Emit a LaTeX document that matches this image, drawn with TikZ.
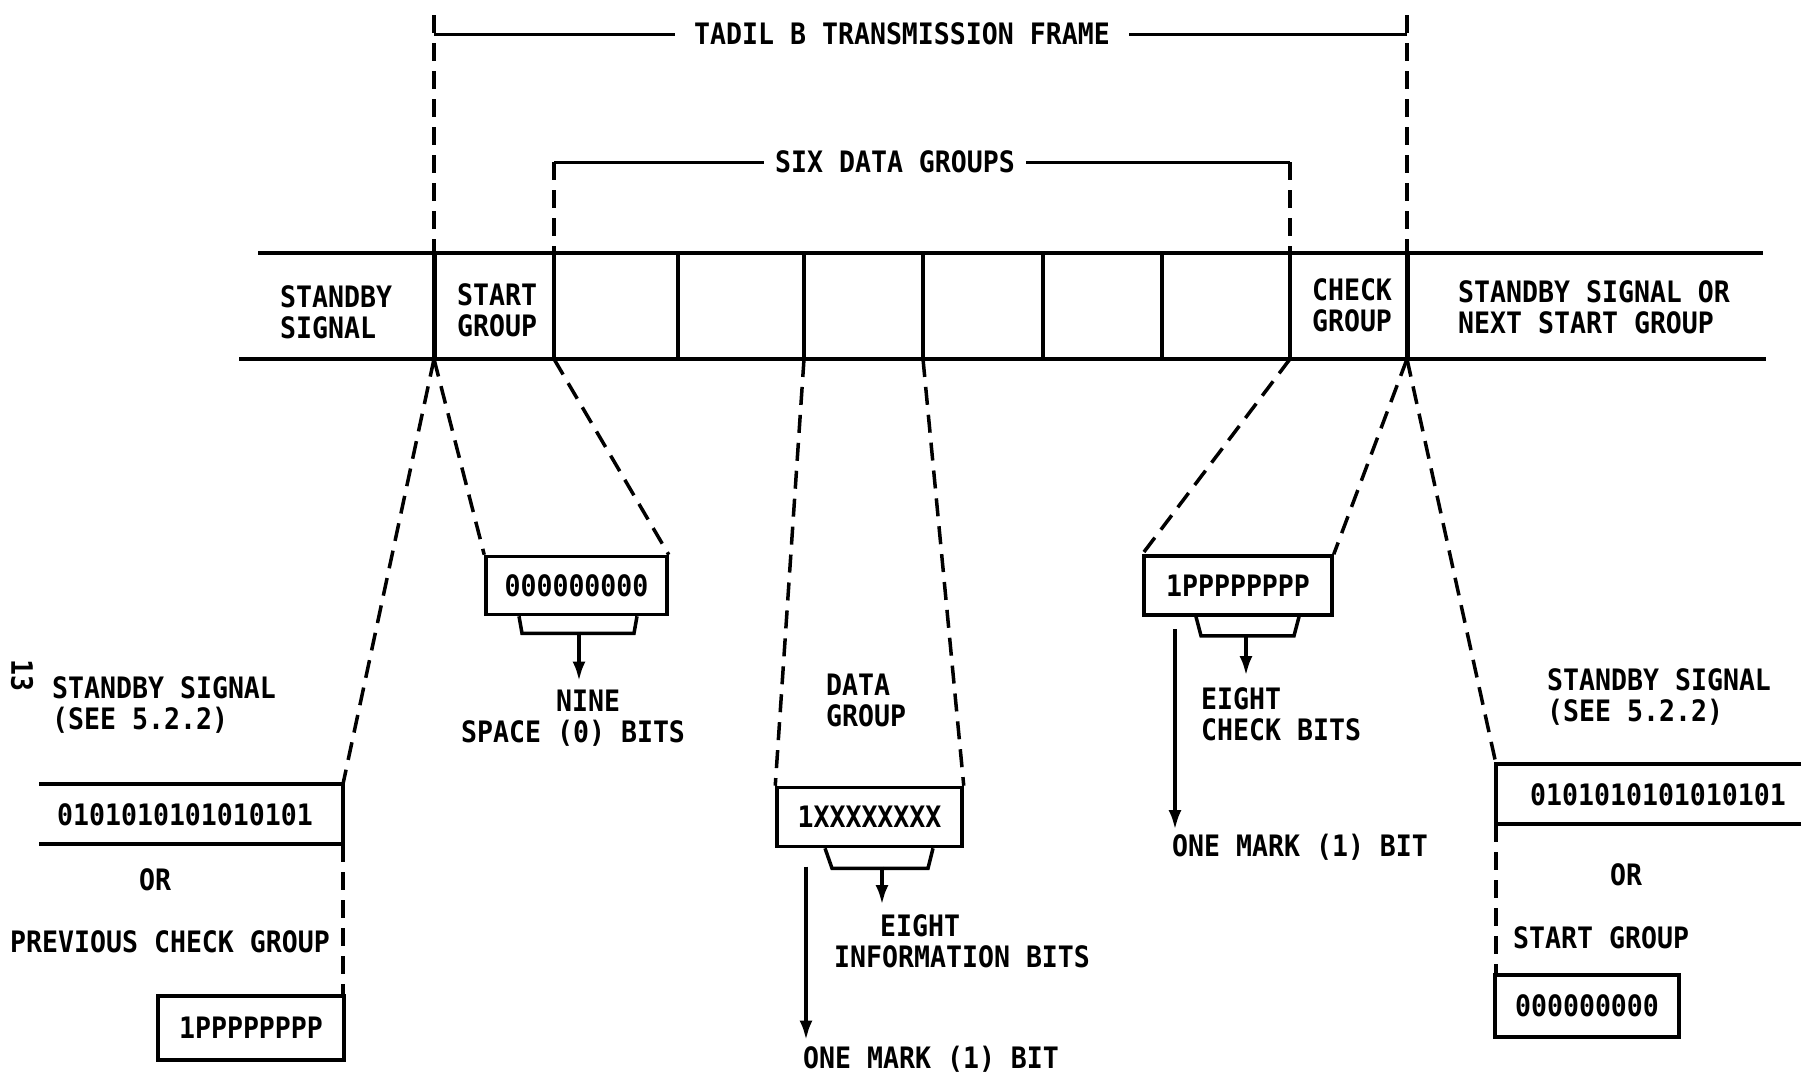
\documentclass[tikz,border=0pt]{standalone}
\usepackage{fontspec}
\setmainfont{DejaVu Sans Mono}[FakeStretch=0.9]
\usetikzlibrary{arrows.meta}

\begin{document}
\begin{tikzpicture}[x=1pt,y=-1pt,
    lbl/.style={font=\fontsize{29.5}{31}\selectfont\bfseries,inner sep=0pt,text height=21.5pt,text depth=0pt},
    txt/.style={font=\fontsize{29.5}{31}\selectfont\bfseries,inner sep=0pt,align=left},
    bits/.style={lbl,draw,line width=3.5pt,minimum height=58pt},
    wall/.style={line width=4pt},
    box/.style={line width=3.5pt},
    brk/.style={line width=3pt},
    dsh/.style={line width=3.5pt,dash pattern=on 18pt off 10pt},
    tip/.style={line width=4pt,-{Latex[length=20pt,width=13pt]}}]
    \useasboundingbox (0,0) rectangle (1801,1074);

    % the band of groups
    \foreach \n/\x in {a/434,b/554,c/678,d/804,e/923,f/1043,g/1162,h/1290,i/1407}{
        \coordinate (t\n) at (\x,253);
        \coordinate (b\n) at (\x,359);
    }
    \draw[wall] (258,253) -- (1763,253);
    \draw[wall] (239,359) -- (1766,359);
    \foreach \n in {b,c,d,e,f,g,h} \draw[wall] (t\n) -- (b\n);
    \foreach \n in {a,i} \draw[wall,line width=5pt] (t\n) -- (b\n);

    \node[txt,anchor=west] (sby) at (280,312.5) {STANDBY\\SIGNAL};
    \node[txt,anchor=west] (stg) at (457,310.5) {START\\GROUP};
    \node[txt] (chk) at (1352,305.5) {CHECK\\GROUP};
    \node[txt,anchor=west] (nxt) at (1458,307.5) {STANDBY SIGNAL OR\\NEXT START GROUP};

    % brackets above
    \coordinate (fl) at (434,15);
    \coordinate (fr) at (1407,15);
    \node[lbl,inner xsep=19pt] (tf) at (902,34) {TADIL B TRANSMISSION FRAME};
    \draw[dsh] (fl) -- (ta);
    \draw[dsh] (fr) -- (ti);
    \draw[brk] (fl |- tf) -- (tf.west);
    \draw[brk] (tf.east) -- (fr |- tf);

    \node[lbl,inner xsep=11pt] (sd) at (895,162) {SIX DATA GROUPS};
    \draw[brk] (tb |- sd) -- (sd.west);
    \draw[brk] (sd.east) -- (th |- sd);
    \draw[dsh] (tb |- sd) -- (tb);
    \draw[dsh] (th |- sd) -- (th);

    % standby signal, left
    \node[lbl,rotate=-90] (pg) at (22,675) {13};
    \node[txt,anchor=west] (lss) at (52,705) {STANDBY SIGNAL\\(SEE 5.2.2)};
    \coordinate (lt) at (343,784);
    \coordinate (lb) at (343,844);
    \node[lbl] (lbits) at (185,815) {0101010101010101};
    \draw[box] (39,784) -- (lt) -- (lb) -- (39,844);
    \node[lbl] (lor) at (155,880) {OR};
    \node[lbl,anchor=west] (prv) at (10,942) {PREVIOUS CHECK GROUP};
    \node[bits,minimum width=186pt,minimum height=64pt] (lck) at (251,1028) {1PPPPPPPP};
    \draw[dsh] (ba) -- (lt);
    \draw[dsh] (lb) -- (lb |- lck.north);

    % start group
    \node[bits,minimum width=181pt] (sp) at (576.5,585.5) {000000000};
    \draw[dsh] (ba) -- (sp.north west);
    \draw[dsh] (bb) -- (sp.north east);
    \draw[box] ([xshift=-57.5pt]sp.south) -- ++(3,17) -- ++(112,0) -- ++(3,-17);
    \coordinate (spt) at (579,631.5);
    \coordinate (spa) at (579,681.5);
    \draw[tip] (spt) -- (spa);
    \node[txt,anchor=west] (nsb) at (461,718.6) {\hspace*{95pt}NINE\\SPACE (0) BITS};

    % data group
    \node[bits,minimum width=185pt,minimum height=59pt] (dg) at (869.5,817) {1XXXXXXXX};
    \draw[dsh] (bd) -- (dg.north west);
    \draw[dsh] (be) -- (dg.north east);
    \draw[box] ([xshift=-44.5pt]dg.south) -- ++(7,20) -- ++(96,0) -- ++(5,-20);
    \coordinate (dgt) at (882,866.5);
    \coordinate (dga) at (882,905);
    \coordinate (dgl) at (806,866.5);
    \coordinate (dgm) at (806,1040.5);
    \draw[tip] (dgt) -- (dga);
    \draw[tip] (dgl) -- (dgm);
    \node[txt,anchor=west] (dgn) at (826,700.3) {DATA\\GROUP};
    \node[txt,anchor=west] (eib) at (834,941) {\hspace*{46pt}EIGHT\\INFORMATION BITS};
    \node[lbl,anchor=west] (om1) at (803,1057.7) {ONE MARK (1) BIT};

    % check group
    \node[bits,minimum width=188pt,minimum height=59pt] (ck) at (1238,585.5) {1PPPPPPPP};
    \draw[dsh] (bh) -- (ck.north west);
    \draw[dsh] (bi) -- (ck.north east);
    \draw[box] ([xshift=-42pt]ck.south) -- ++(5,19) -- ++(93,0) -- ++(5,-19);
    \coordinate (ckt) at (1246,634);
    \coordinate (cka) at (1246,676);
    \coordinate (ckl) at (1175,629);
    \coordinate (ckm) at (1175,830);
    \draw[tip] (ckt) -- (cka);
    \draw[tip] (ckl) -- (ckm);
    \node[txt,anchor=west] (ecb) at (1201,714.4) {EIGHT\\CHECK BITS};
    \node[lbl,anchor=west] (om2) at (1172,846) {ONE MARK (1) BIT};

    % standby signal, right
    \node[txt,anchor=west] (rss) at (1547,697) {STANDBY SIGNAL\\(SEE 5.2.2)};
    \coordinate (rt) at (1496,764);
    \coordinate (rb) at (1496,824);
    \node[lbl] (rbits) at (1658,795) {0101010101010101};
    \draw[box] (1801,764) -- (rt) -- (rb) -- (1801,824);
    \draw[dsh] (bi) -- (rt);
    \node[lbl] (ror) at (1626,874.6) {OR};
    \node[lbl,anchor=west] (rsg) at (1513,938) {START GROUP};
    \node[bits,minimum width=184pt,minimum height=62pt] (rsp) at (1587,1006) {000000000};
    \draw[dsh] (rb) -- (rb |- rsp.north);
\end{tikzpicture}
\end{document}
